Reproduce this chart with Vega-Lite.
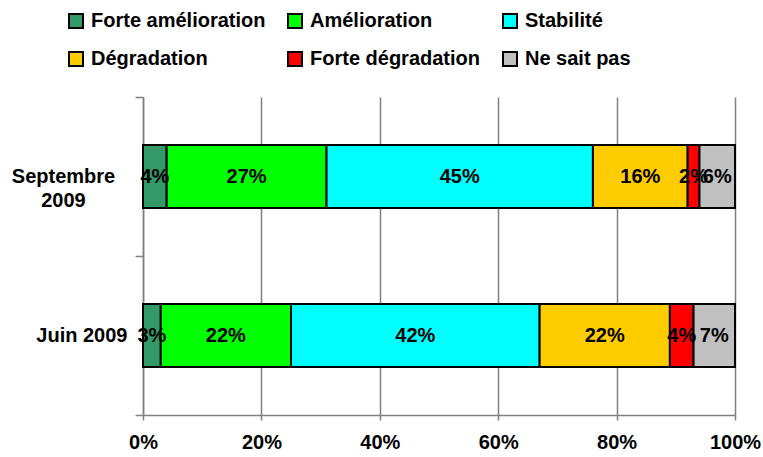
{
  "$schema": "https://vega.github.io/schema/vega-lite/v6.json",
  "width": 592,
  "height": 318,
  "autosize": "none",
  "padding": {"left": 143, "top": 97, "right": 28, "bottom": 42},
  "background": "white",
  "config": {"view": {"stroke": null}, "font": "Liberation Sans"},
  "data": {
    "values": [
      {"periode": "Septembre 2009", "reponse": "Forte amélioration", "ordre": 1, "pct": 0.04},
      {"periode": "Septembre 2009", "reponse": "Amélioration", "ordre": 2, "pct": 0.27},
      {"periode": "Septembre 2009", "reponse": "Stabilité", "ordre": 3, "pct": 0.45},
      {"periode": "Septembre 2009", "reponse": "Dégradation", "ordre": 4, "pct": 0.16},
      {"periode": "Septembre 2009", "reponse": "Forte dégradation", "ordre": 5, "pct": 0.02},
      {"periode": "Septembre 2009", "reponse": "Ne sait pas", "ordre": 6, "pct": 0.06},
      {"periode": "Juin 2009", "reponse": "Forte amélioration", "ordre": 1, "pct": 0.03},
      {"periode": "Juin 2009", "reponse": "Amélioration", "ordre": 2, "pct": 0.22},
      {"periode": "Juin 2009", "reponse": "Stabilité", "ordre": 3, "pct": 0.42},
      {"periode": "Juin 2009", "reponse": "Dégradation", "ordre": 4, "pct": 0.22},
      {"periode": "Juin 2009", "reponse": "Forte dégradation", "ordre": 5, "pct": 0.04},
      {"periode": "Juin 2009", "reponse": "Ne sait pas", "ordre": 6, "pct": 0.07}
    ]
  },
  "encoding": {
    "y": {
      "field": "periode",
      "type": "nominal",
      "sort": ["Septembre 2009", "Juin 2009"],
      "scale": {"paddingInner": 0, "paddingOuter": 0},
      "axis": {
        "title": null,
        "grid": false,
        "tickBand": "extent",
        "domainColor": "#808080",
        "domainWidth": 1.5,
        "tickColor": "#808080",
        "tickWidth": 1.5,
        "tickSize": 8,
        "labelFontSize": 20,
        "labelFontWeight": "bold",
        "labelColor": "black",
        "labelLineHeight": 24,
        "labelExpr": "datum.value == 'Septembre 2009' ? ['Septembre', '2009'] : datum.value",
        "labelAlign": {"condition": {"test": "datum.value == 'Septembre 2009'", "value": "center"}, "value": "right"},
        "labelPadding": {"condition": {"test": "datum.value == 'Septembre 2009'", "value": 72}, "value": 8}
      }
    }
  },
  "layer": [
    {
      "mark": {"type": "bar", "size": 63, "stroke": "black", "strokeWidth": 2},
      "encoding": {
        "x": {
          "field": "pct",
          "type": "quantitative",
          "stack": "zero",
          "scale": {"domain": [0, 1]},
          "axis": {
            "title": null,
            "values": [0, 0.2, 0.4, 0.6, 0.8, 1],
            "format": ".0%",
            "grid": true,
            "gridColor": "#808080",
            "gridWidth": 1.5,
            "domainColor": "#808080",
            "domainWidth": 1.5,
            "tickColor": "#808080",
            "tickWidth": 1.5,
            "tickSize": 5,
            "labelFontSize": 20,
            "labelFontWeight": "bold",
            "labelColor": "black",
            "labelPadding": 12,
            "labelFlush": false
          }
        },
        "color": {
          "field": "reponse",
          "type": "nominal",
          "scale": {
            "domain": ["Forte amélioration", "Amélioration", "Stabilité", "Dégradation", "Forte dégradation", "Ne sait pas"],
            "range": ["#339966", "#00FF00", "#00FFFF", "#FFCC00", "#FF0000", "#C0C0C0"]
          },
          "legend": {
            "title": null,
            "orient": "none",
            "direction": "horizontal",
            "legendX": -77,
            "legendY": -86,
            "columns": 3,
            "columnPadding": 18,
            "rowPadding": 16,
            "symbolType": "square",
            "symbolSize": 196,
            "symbolStrokeColor": "black",
            "symbolStrokeWidth": 2,
            "labelFontSize": 20,
            "labelFontWeight": "bold",
            "labelColor": "black",
            "labelOffset": 5,
            "labelLimit": 300
          }
        },
        "order": {"field": "ordre", "type": "quantitative"}
      }
    },
    {
      "mark": {"type": "text", "fontSize": 20, "fontWeight": "bold", "color": "black", "baseline": "middle", "align": "center"},
      "encoding": {
        "x": {"field": "pct", "type": "quantitative", "stack": "zero", "bandPosition": 0.5},
        "detail": {"field": "reponse"},
        "text": {"field": "pct", "type": "quantitative", "format": ".0%"},
        "order": {"field": "ordre", "type": "quantitative"}
      }
    }
  ]
}
